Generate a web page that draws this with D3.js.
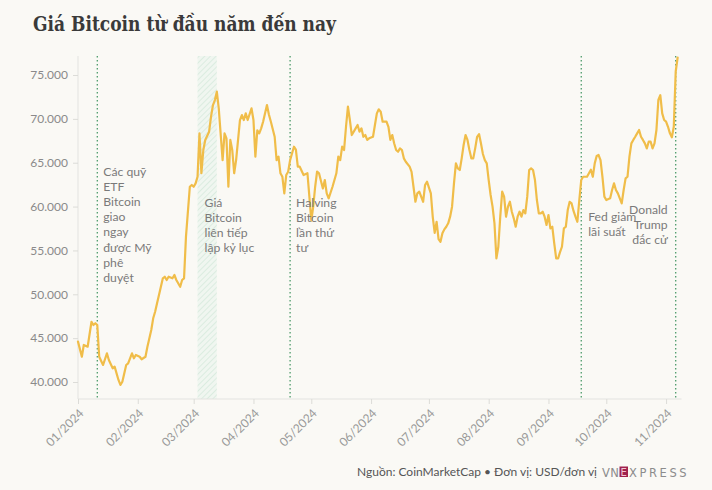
<!DOCTYPE html>
<html>
<head>
<meta charset="utf-8">
<script src="https://cdn.jsdelivr.net/npm/d3@7"></script>
<style>
  html, body { margin: 0; padding: 0; background: #faf9f5; }
  svg { display: block; }
  text { font-family: Lato, "Noto Sans", sans-serif; }
</style>
</head>
<body>
<svg id="chart" width="712" height="490"></svg>
<script>
// ---------- data ----------
const title = "Giá Bitcoin từ đầu năm đến nay";
const source = "Nguồn: CoinMarketCap • Đơn vị: USD/đơn vị";

const dates = [
  "2024-01-01","2024-01-03","2024-01-04","2024-01-06","2024-01-08","2024-01-09","2024-01-10","2024-01-11","2024-01-12","2024-01-14","2024-01-16","2024-01-17","2024-01-19","2024-01-20","2024-01-22","2024-01-23","2024-01-24","2024-01-26","2024-01-27","2024-01-29","2024-01-30","2024-01-31",
  "2024-02-02","2024-02-03","2024-02-05","2024-02-06","2024-02-08","2024-02-09","2024-02-10","2024-02-11","2024-02-12","2024-02-14","2024-02-15","2024-02-16","2024-02-17","2024-02-19","2024-02-20","2024-02-21","2024-02-23","2024-02-24","2024-02-25","2024-02-26","2024-02-28","2024-02-29",
  "2024-03-01","2024-03-02","2024-03-03","2024-03-04","2024-03-05","2024-03-06","2024-03-07","2024-03-09","2024-03-10","2024-03-11","2024-03-12","2024-03-13","2024-03-14","2024-03-16","2024-03-17","2024-03-18","2024-03-19","2024-03-20","2024-03-21","2024-03-22","2024-03-23","2024-03-25","2024-03-26","2024-03-27","2024-03-28","2024-03-29","2024-03-31",
  "2024-04-01","2024-04-02","2024-04-03","2024-04-04","2024-04-05","2024-04-06","2024-04-08","2024-04-09","2024-04-10","2024-04-12","2024-04-13","2024-04-14","2024-04-15","2024-04-16","2024-04-17","2024-04-18","2024-04-19","2024-04-20","2024-04-22","2024-04-23","2024-04-24","2024-04-25","2024-04-27","2024-04-29","2024-04-30",
  "2024-05-01","2024-05-02","2024-05-03","2024-05-04","2024-05-05","2024-05-07","2024-05-08","2024-05-09","2024-05-10","2024-05-12","2024-05-14","2024-05-15","2024-05-16","2024-05-17","2024-05-18","2024-05-19","2024-05-20","2024-05-21","2024-05-22","2024-05-24","2024-05-25","2024-05-26","2024-05-27","2024-05-28","2024-05-29","2024-05-30","2024-05-31",
  "2024-06-02","2024-06-03","2024-06-04","2024-06-05","2024-06-06","2024-06-07","2024-06-09","2024-06-10","2024-06-11","2024-06-12","2024-06-13","2024-06-14","2024-06-15","2024-06-16","2024-06-17","2024-06-18","2024-06-19","2024-06-21","2024-06-22","2024-06-23","2024-06-24","2024-06-25","2024-06-26","2024-06-28","2024-06-29","2024-06-30",
  "2024-07-02","2024-07-03","2024-07-04","2024-07-05","2024-07-06","2024-07-07","2024-07-08","2024-07-09","2024-07-10","2024-07-11","2024-07-12","2024-07-13","2024-07-14","2024-07-15","2024-07-16","2024-07-17","2024-07-18","2024-07-19","2024-07-20","2024-07-21","2024-07-22","2024-07-23","2024-07-24","2024-07-25","2024-07-26","2024-07-27","2024-07-28","2024-07-29","2024-07-30","2024-07-31",
  "2024-08-01","2024-08-02","2024-08-03","2024-08-04","2024-08-05","2024-08-06","2024-08-07","2024-08-08","2024-08-09","2024-08-10","2024-08-11","2024-08-12","2024-08-13","2024-08-14","2024-08-15","2024-08-16","2024-08-17","2024-08-18","2024-08-19","2024-08-20","2024-08-21","2024-08-22","2024-08-23","2024-08-24","2024-08-25","2024-08-26","2024-08-27","2024-08-28","2024-08-29","2024-08-30","2024-08-31",
  "2024-09-01","2024-09-02","2024-09-03","2024-09-04","2024-09-05","2024-09-06","2024-09-07","2024-09-08","2024-09-09","2024-09-10","2024-09-11","2024-09-12","2024-09-13","2024-09-14","2024-09-15","2024-09-16","2024-09-17","2024-09-18","2024-09-19","2024-09-21","2024-09-22","2024-09-23","2024-09-24","2024-09-25","2024-09-26","2024-09-27","2024-09-28","2024-09-29","2024-09-30",
  "2024-10-01","2024-10-03","2024-10-04","2024-10-05","2024-10-06","2024-10-07","2024-10-08","2024-10-09","2024-10-10","2024-10-11","2024-10-12","2024-10-13","2024-10-14","2024-10-15","2024-10-16","2024-10-17","2024-10-18","2024-10-19","2024-10-20","2024-10-21","2024-10-22","2024-10-23","2024-10-24","2024-10-25","2024-10-26","2024-10-27","2024-10-28","2024-10-29","2024-10-30","2024-10-31",
  "2024-11-01","2024-11-02","2024-11-03","2024-11-04","2024-11-05","2024-11-06","2024-11-07"
];

const prices = [
  44600,42880,44220,44020,46870,46500,46700,46500,42880,41940,43270,42500,41560,41750,40230,39660,40030,41940,42130,43270,42700,43080,
  42880,42590,42880,44020,45930,47260,48010,48970,49920,51820,52000,51630,52000,51820,52200,51630,50860,51630,51820,56570,62260,62460,
  62260,62650,63400,68350,63800,66450,67600,68540,70250,71580,72150,73100,71200,65300,68350,67780,62260,67600,66450,63800,65300,69870,70440,69870,70630,69870,71200,
  69870,65700,68700,68350,68920,69680,71580,70500,69700,67960,65300,65700,63800,63400,61500,63600,63970,65300,66830,66500,64550,64550,63600,63800,61130,
  58400,60000,62260,64000,63800,62070,63030,61510,60940,62260,63800,65700,65300,66830,66450,69100,71390,69870,68160,68920,69300,68540,68920,67960,68160,67600,67780,
  67960,69300,70630,71090,70820,69680,69680,69100,67600,68160,67200,66450,66250,66640,66450,65500,65110,64550,63970,62260,60550,61510,61700,60550,62460,62840,
  61500,58800,57000,58270,56300,55990,56950,57400,57700,58090,58850,59990,62650,64930,64360,64170,65500,67020,68160,67600,66450,65500,65500,66640,67960,68270,67200,66000,65300,64930,
  63030,61320,59990,58090,54100,55420,58850,61700,61130,58850,59990,60550,59410,58660,57700,58850,59410,58850,59600,59230,61130,64170,64360,64170,63030,60750,59230,59230,59410,58850,57900,
  59040,57520,57700,55800,54100,54100,54800,55420,57520,57700,59600,60550,60360,59500,58850,58270,60750,63030,63400,63400,63800,64200,63400,64930,65760,65880,65300,63400,61130,
  60750,60940,61890,62650,61890,61510,60940,60360,61890,63220,63400,65700,67210,67600,67960,68350,68730,67960,67600,67210,66640,67400,67400,66640,67210,68730,72150,72700,70630,69870,
  69680,69100,68350,67900,69100,75400,77000
];

const yTicks = [40000, 45000, 50000, 55000, 60000, 65000, 70000, 75000];

const eventDates = ["2024-01-11", "2024-04-20", "2024-09-18", "2024-11-06"];
const recordBand = ["2024-03-03", "2024-03-13"];

const annoLines = [
  ["Các quỹ", "ETF", "Bitcoin", "giao", "ngay", "được Mỹ", "phê", "duyệt"],
  ["Giá", "Bitcoin", "liên tiếp", "lập kỷ lục"],
  ["Halving", "Bitcoin", "lần thứ", "tư"],
  ["Fed giảm", "lãi suất"],
  ["Donald", "Trump", "đắc cử"]
];

// ---------- setup ----------
const parse = d3.timeParse("%Y-%m-%d");
const series = dates.map((d, i) => ({ date: parse(d), value: prices[i] }));

const svg = d3.select("#chart");
const W = 712, H = 490;
svg.append("rect").attr("width", W).attr("height", H).attr("fill", "#faf9f5");

const plot = { left: 78, right: 681.5, top: 56, bottom: 399 };

const x = d3.scaleTime()
  .domain([parse("2024-01-01"), parse("2024-11-09")])
  .range([plot.left, plot.right]);
const y = d3.scaleLinear()
  .domain([38060, 77170])
  .range([plot.bottom, plot.top]);

const vn = d3.formatLocale({ decimal: ",", thousands: ".", grouping: [3], currency: ["", ""] });
const fmt = vn.format(",");

// hatch pattern
const defs = svg.append("defs");
const pat = defs.append("pattern")
  .attr("id", "hatch").attr("patternUnits", "userSpaceOnUse")
  .attr("width", 4).attr("height", 4)
  .attr("patternTransform", "rotate(45)");
pat.append("rect").attr("width", 4).attr("height", 4).attr("fill", "#f0f6f0");
pat.append("line").attr("x1", 0).attr("y1", 0).attr("x2", 0).attr("y2", 4)
  .attr("stroke", "#dbece0").attr("stroke-width", 2);

// title
svg.append("text")
  .attr("x", 33).attr("y", 31)
  .style("font-family", "'DejaVu Serif', serif")
  .attr("font-weight", "bold")
  .attr("font-size", 21)
  .attr("fill", "#3a3a3a")
  .attr("textLength", 303).attr("lengthAdjust", "spacingAndGlyphs")
  .text(title);

// record band
svg.append("rect")
  .attr("x", x(parse(recordBand[0])))
  .attr("y", plot.top)
  .attr("width", x(parse(recordBand[1])) - x(parse(recordBand[0])))
  .attr("height", plot.bottom - plot.top)
  .attr("fill", "url(#hatch)");

// y axis
const yAxis = svg.append("g")
  .attr("transform", `translate(${plot.left},0)`)
  .call(d3.axisLeft(y).tickValues(yTicks).tickFormat(fmt).tickSize(5).tickPadding(5));
yAxis.select(".domain").attr("stroke", "#e3e3e0").attr("d", `M0,${plot.top}V${plot.bottom}`);
yAxis.selectAll(".tick line").attr("stroke", "#dcdcd8");
yAxis.selectAll(".tick text").attr("fill", "#8a8a8a").attr("font-size", 12)
  .style("font-family", "Lato, sans-serif");

// x axis
const xAxis = svg.append("g")
  .attr("transform", `translate(0,${plot.bottom})`)
  .call(d3.axisBottom(x).ticks(d3.timeMonth.every(1)).tickFormat(d3.timeFormat("%m/%Y")).tickSize(5));
xAxis.select(".domain").attr("stroke", "#e3e3e0").attr("d", `M${plot.left},0H${plot.right}`);
xAxis.selectAll(".tick line").attr("stroke", "#dcdcd8");
xAxis.selectAll(".tick text")
  .attr("fill", "#999")
  .attr("font-size", 12)
  .style("font-family", "Lato, sans-serif")
  .attr("text-anchor", "end")
  .attr("y", 0).attr("dy", "0.35em")
  .attr("transform", "translate(3,12) rotate(-45)");

// event lines
svg.append("g").selectAll("line")
  .data(eventDates)
  .join("line")
  .attr("x1", d => x(parse(d))).attr("x2", d => x(parse(d)))
  .attr("y1", plot.top).attr("y2", plot.bottom)
  .attr("stroke", "#3f9460")
  .attr("stroke-width", 1.2)
  .attr("stroke-dasharray", "1.5,2.5");

// price line
const line = d3.line().x(d => x(d.date)).y(d => y(d.value));
svg.append("path")
  .datum(series)
  .attr("d", line)
  .attr("fill", "none")
  .attr("stroke", "#f0bd49")
  .attr("stroke-width", 2.2)
  .attr("stroke-linejoin", "round")
  .attr("stroke-linecap", "round");

// annotations
const annoPos = [
  { x: x(parse(eventDates[0])) + 6, y: 176, anchor: "start" },
  { x: x(parse(recordBand[0])) + 7, y: 206.5, anchor: "start" },
  { x: x(parse(eventDates[1])) + 6, y: 206.5, anchor: "start" },
  { x: x(parse(eventDates[2])) + 7, y: 221, anchor: "start" },
  { x: x(parse(eventDates[3])) - 8, y: 213.5, anchor: "end" }
];
annoLines.forEach((lines, i) => {
  const p = annoPos[i];
  const t = svg.append("text")
    .attr("x", p.x).attr("y", p.y)
    .attr("text-anchor", p.anchor)
    .attr("fill", "#7a7a7a")
    .attr("font-size", 12.2);
  lines.forEach((s, j) => {
    t.append("tspan").attr("x", p.x).attr("dy", j === 0 ? 0 : 15.1).text(s);
  });
});

// footer
svg.append("text")
  .attr("x", 597).attr("y", 476)
  .attr("text-anchor", "end")
  .attr("fill", "#555")
  .attr("font-size", 12)
  .text(source);

// logo
const logo = svg.append("g");
logo.append("text").attr("x", 602).attr("y", 476.5)
  .attr("fill", "#8c8c8c").attr("font-size", 11.5)
  .style("font-family", "'DejaVu Sans', sans-serif")
  .attr("letter-spacing", 0.5)
  .text("VN");
logo.append("rect").attr("x", 619.5).attr("y", 466.5).attr("width", 8.5).attr("height", 10.5)
  .attr("fill", "#9f224e");
logo.append("text").attr("x", 623.75).attr("y", 475.5)
  .attr("text-anchor", "middle")
  .attr("fill", "#f3c6d5").attr("font-size", 10)
  .style("font-family", "'DejaVu Sans', sans-serif")
  .text("E");
logo.append("text").attr("x", 629).attr("y", 476.5)
  .attr("fill", "#8c8c8c").attr("font-size", 11.5)
  .style("font-family", "'DejaVu Sans', sans-serif")
  .attr("letter-spacing", 2.6)
  .text("XPRESS");
</script>
</body>
</html>
